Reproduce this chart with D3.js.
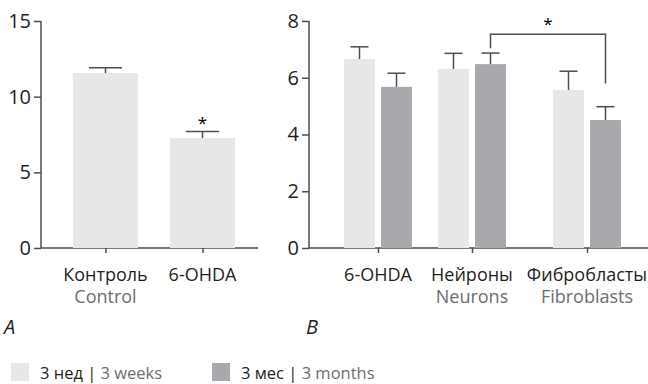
<!DOCTYPE html>
<html>
<head>
<meta charset="utf-8">
<script src="https://cdn.jsdelivr.net/npm/d3@7"></script>
<style>
  body { margin: 0; background: #fff; }
  svg { display: block; font-family: "Open Sans", sans-serif; }
</style>
</head>
<body>
<div id="chart"></div>
<script>
// panel A
const catsA = ["Контроль", "6-OHDA"]
const catsAEn = ["Control", ""]
const valuesA = [11.56, 7.27]
const errA = [11.91, 7.69]
const starsA = [false, true]
const ticksA = [0, 5, 10, 15]

// panel B
const catsB = ["6-OHDA", "Нейроны", "Фибробласты"]
const catsBEn = ["", "Neurons", "Fibroblasts"]
const seriesKeys = ["w", "m"]
const seriesNames = ["3 нед", "3 мес"]
const seriesNamesEn = ["3 weeks", "3 months"]
const weeksB = [6.66, 6.31, 5.57]
const weeksErrB = [7.09, 6.86, 6.23]
const monthsB = [5.68, 6.48, 4.51]
const monthsErrB = [6.16, 6.87, 4.98]
const ticksB = [0, 2, 4, 6, 8]
// significance bracket: Нейроны 3 мес vs Фибробласты 3 мес
const bracketFrom = ["Нейроны", "m"]
const bracketTo = ["Фибробласты", "m"]
const bracketLevels = [7.04, 7.53, 5.8] // left end, top, right end

const colors = { w: "#e6e7e8", m: "#a7a9ac" }
const axisColor = "#4d4d4f"
const enColor = "#6d6e71"
const labelSize = 18

const W = 648, H = 384
const svg = d3.select('#chart').append('svg')
    .attr('width', W)
    .attr('height', H)

const y0 = 248, yTop = 21

// ---------- panel A ----------
const gA = svg.append('g')
const yA = d3.scaleLinear().domain([0, 15]).range([y0, yTop])
const xA = d3.scalePoint().domain(catsA).range([105.5, 202.5])
const barWA = 65

const yAxisA = gA.append('g')
    .attr('transform', 'translate(41,0)')
    .call(d3.axisLeft(yA).tickValues(ticksA).tickSize(7).tickPadding(3).tickSizeOuter(0))
yAxisA.select('.domain').attr('d', `M0,${yA(0)}V${yA(15)}`)

const xAxisA = gA.append('g')
    .attr('transform', `translate(0,${y0})`)
    .call(d3.axisBottom(xA).tickSize(5).tickFormat('').tickSizeOuter(0))
xAxisA.select('.domain').attr('d', 'M41,0H258')

gA.selectAll('rect.bar')
    .data(catsA)
    .join('rect')
    .attr('class', 'bar')
    .attr('x', d => xA(d) - barWA / 2)
    .attr('width', barWA)
    .attr('y', (d, i) => yA(valuesA[i]))
    .attr('height', (d, i) => yA(0) - yA(valuesA[i]))
    .attr('fill', colors.w)

catsA.forEach((c, i) => {
    const cx = xA(c)
    gA.append('line')
        .attr('x1', cx).attr('x2', cx)
        .attr('y1', yA(valuesA[i])).attr('y2', yA(errA[i]))
        .attr('stroke', axisColor).attr('stroke-width', 1.5)
    gA.append('line')
        .attr('x1', cx - 16.5).attr('x2', cx + 16.5)
        .attr('y1', yA(errA[i])).attr('y2', yA(errA[i]))
        .attr('stroke', axisColor).attr('stroke-width', 1.5)
    if (starsA[i]) {
        gA.append('text')
            .attr('x', cx).attr('y', yA(errA[i]) - 3)
            .attr('text-anchor', 'middle')
            .attr('font-size', 17)
            .text('*')
    }
    gA.append('text')
        .attr('x', cx).attr('y', 281)
        .attr('text-anchor', 'middle')
        .attr('font-size', labelSize)
        .attr('fill', '#231f20')
        .text(c)
    gA.append('text')
        .attr('x', cx).attr('y', 303)
        .attr('text-anchor', 'middle')
        .attr('font-size', labelSize)
        .attr('fill', enColor)
        .text(catsAEn[i])
})

// ---------- panel B ----------
const gB = svg.append('g')
const yB = d3.scaleLinear().domain([0, 8]).range([y0, yTop])
const xB = d3.scaleOrdinal().domain(catsB).range([378, 472, 587])
const xSub = d3.scaleBand().domain(seriesKeys).range([-34, 34]).paddingInner(0.162)

const yAxisB = gB.append('g')
    .attr('transform', 'translate(309,0)')
    .call(d3.axisLeft(yB).tickValues(ticksB).tickSize(7).tickPadding(3).tickSizeOuter(0))
yAxisB.select('.domain').attr('d', `M0,${yB(0)}V${yB(8)}`)

const xAxisB = gB.append('g')
    .attr('transform', `translate(0,${y0})`)
    .call(d3.axisBottom(xB).tickValues(catsB).tickSize(5).tickFormat('').tickSizeOuter(0))
xAxisB.select('.domain').attr('d', 'M309,0H648')

const barsB = []
catsB.forEach((c, i) => {
    barsB.push({ cat: c, key: 'w', v: weeksB[i], e: weeksErrB[i] })
    barsB.push({ cat: c, key: 'm', v: monthsB[i], e: monthsErrB[i] })
})
const bx = d => xB(d.cat) + xSub(d.key) + xSub.bandwidth() / 2

gB.selectAll('rect.bar')
    .data(barsB)
    .join('rect')
    .attr('class', 'bar')
    .attr('x', d => xB(d.cat) + xSub(d.key))
    .attr('width', xSub.bandwidth())
    .attr('y', d => yB(d.v))
    .attr('height', d => yB(0) - yB(d.v))
    .attr('fill', d => colors[d.key])

gB.selectAll('line.err')
    .data(barsB)
    .join('line')
    .attr('class', 'err')
    .attr('x1', bx).attr('x2', bx)
    .attr('y1', d => yB(d.v)).attr('y2', d => yB(d.e))
    .attr('stroke', axisColor).attr('stroke-width', 1.5)
gB.selectAll('line.cap')
    .data(barsB)
    .join('line')
    .attr('class', 'cap')
    .attr('x1', d => bx(d) - 9).attr('x2', d => bx(d) + 9)
    .attr('y1', d => yB(d.e)).attr('y2', d => yB(d.e))
    .attr('stroke', axisColor).attr('stroke-width', 1.5)

// bracket
const bxL = bx({ cat: bracketFrom[0], key: bracketFrom[1] })
const bxR = bx({ cat: bracketTo[0], key: bracketTo[1] })
gB.append('path')
    .attr('d', `M${bxL},${yB(bracketLevels[0])}V${yB(bracketLevels[1])}H${bxR}V${yB(bracketLevels[2])}`)
    .attr('fill', 'none')
    .attr('stroke', axisColor)
    .attr('stroke-width', 1.5)
gB.append('text')
    .attr('x', (bxL + bxR) / 2).attr('y', yB(bracketLevels[1]) - 4)
    .attr('text-anchor', 'middle')
    .attr('font-size', 17)
    .text('*')

catsB.forEach((c, i) => {
    gB.append('text')
        .attr('x', xB(c)).attr('y', 281)
        .attr('text-anchor', 'middle')
        .attr('font-size', labelSize)
        .attr('fill', '#231f20')
        .text(c)
    gB.append('text')
        .attr('x', xB(c)).attr('y', 303)
        .attr('text-anchor', 'middle')
        .attr('font-size', labelSize)
        .attr('fill', enColor)
        .text(catsBEn[i])
})

// tick label styling
svg.selectAll('.tick text')
    .attr('font-size', 20)
    .attr('fill', '#231f20')
    .attr('font-family', '"Open Sans", sans-serif')
svg.selectAll('.domain, .tick line')
    .attr('stroke', axisColor)
    .attr('stroke-width', 1.5)

// panel letters
svg.append('text').attr('x', 4).attr('y', 334)
    .attr('font-size', 20).attr('font-style', 'italic').attr('fill', '#231f20').text('A')
svg.append('text').attr('x', 306).attr('y', 334)
    .attr('font-size', 20).attr('font-style', 'italic').attr('fill', '#231f20').text('B')

// legend
const legendX = [11, 212]
seriesKeys.forEach((k, i) => {
    const g = svg.append('g').attr('transform', `translate(${legendX[i]},363)`)
    g.append('rect').attr('width', 18).attr('height', 18).attr('fill', colors[k])
    const t = g.append('text').attr('x', 29).attr('y', 16).attr('font-size', 16.5)
    t.append('tspan').attr('fill', '#231f20').text(seriesNames[i] + ' | ')
    t.append('tspan').attr('fill', enColor).text(seriesNamesEn[i])
})
</script>
</body>
</html>
